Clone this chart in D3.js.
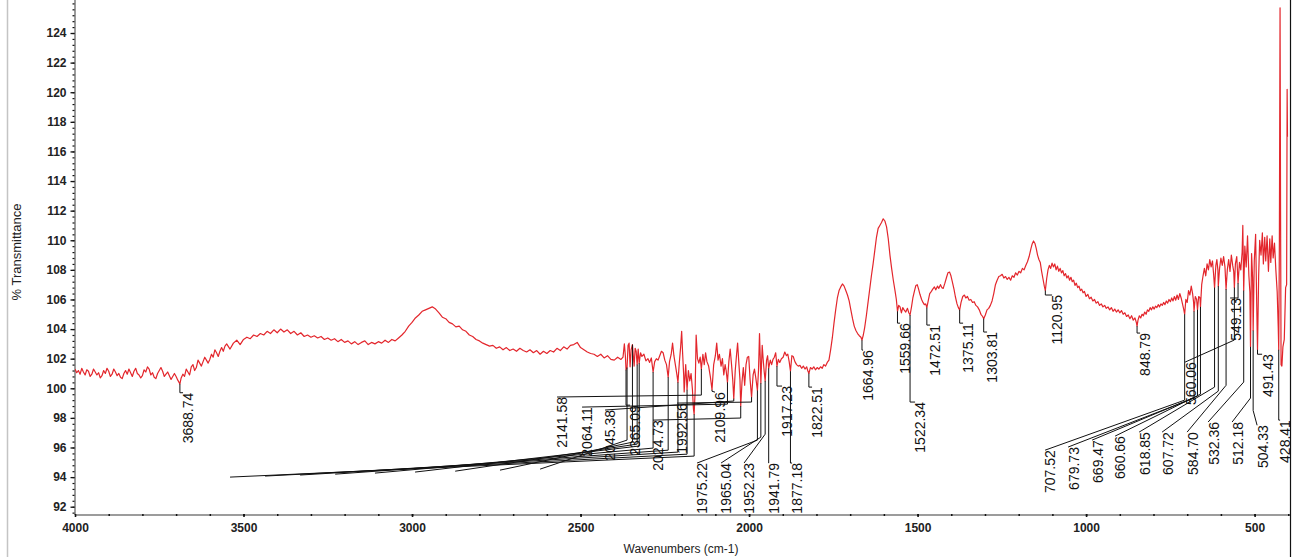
<!DOCTYPE html>
<html>
<head>
<meta charset="utf-8">
<script src="https://cdn.jsdelivr.net/npm/d3@7"></script>
<style>
  html, body { margin: 0; padding: 0; background: #fff; }
  svg { display: block; font-family: "Liberation Sans", Arial, sans-serif; }
</style>
</head>
<body>
<svg id="chart" width="1301" height="557"></svg>
<script>
// IR spectrum: [wavenumber (cm-1), % transmittance]
const spectrum = [
  [4000,101.3],[3995,101.05],[3990,101.2],[3985,100.95],[3980,101.35],[3975,101.1],[3970,100.9],[3965,101.25],
  [3960,101.15],[3955,100.8],[3950,100.95],[3945,101.3],[3940,101.1],[3935,100.9],[3930,101.05],[3925,100.7],
  [3920,100.85],[3915,101.2],[3910,101.0],[3905,101.35],[3900,101.15],[3895,100.8],[3890,100.95],[3885,101.3],
  [3880,101.1],[3875,100.85],[3870,101.0],[3865,100.75],[3860,100.65],[3855,101.0],[3850,101.2],[3845,100.95],
  [3840,101.3],[3835,101.05],[3830,100.8],[3825,101.15],[3820,101.35],[3815,101.0],[3810,100.9],[3805,100.7],
  [3800,100.85],[3795,101.25],[3790,101.1],[3785,101.45],[3780,101.3],[3775,100.9],[3770,101.05],[3765,100.75],
  [3760,100.65],[3755,101.0],[3750,101.2],[3745,101.4],[3740,101.15],[3735,100.8],[3730,100.95],[3725,101.1],
  [3720,100.85],[3715,100.6],[3710,100.8],[3705,101.0],[3700,100.8],[3695,100.55],[3688.74,100.3],[3685,100.7],
  [3680,100.95],[3675,100.8],[3670,101.3],[3665,101.1],[3660,100.9],[3655,101.45],[3650,101.6],[3645,101.2],
  [3640,101.4],[3635,101.9],[3630,101.7],[3625,101.5],[3620,101.8],[3615,102.1],[3610,101.9],[3605,101.7],
  [3600,101.95],[3595,102.3],[3590,102.1],[3585,102.6],[3580,102.4],[3575,102.15],[3570,102.5],[3565,102.75],
  [3560,102.5],[3555,102.85],[3550,103.0],[3540,102.65],[3530,103.05],
  [3520,103.25],[3510,102.95],[3500,103.3],[3490,103.45],[3480,103.35],[3470,103.6],[3460,103.5],[3450,103.7],
  [3440,103.6],[3430,103.85],[3420,103.7],[3410,103.95],[3400,103.75],[3390,104.0],[3380,103.8],[3370,103.95],
  [3360,103.7],[3350,103.85],[3340,103.6],[3330,103.75],[3320,103.5],[3310,103.6],[3300,103.45],[3290,103.55],
  [3280,103.4],[3270,103.5],[3260,103.3],[3250,103.4],[3240,103.25],[3230,103.35],[3220,103.15],[3210,103.3],
  [3200,103.1],[3190,103.2],[3180,103.0],[3170,103.15],[3160,102.95],[3150,103.1],[3140,103.2],[3130,102.95],
  [3120,103.1],[3110,103.0],[3100,103.15],[3090,103.05],[3080,103.25],[3070,103.1],[3060,103.3],[3050,103.2],
  [3040,103.4],[3030,103.6],[3020,103.85],[3010,104.2],[3000,104.45],[2990,104.75],[2980,104.95],[2970,105.2],
  [2960,105.3],[2950,105.4],[2940,105.5],[2930,105.35],[2920,105.1],[2910,104.8],[2900,104.7],[2890,104.45],
  [2880,104.35],[2870,104.15],[2860,104.2],[2850,103.95],[2840,103.85],[2830,103.6],[2820,103.5],[2810,103.3],
  [2800,103.2],[2790,103.05],[2780,102.95],[2770,102.85],[2760,102.9],[2750,102.7],[2740,102.8],[2730,102.6],
  [2720,102.75],[2710,102.55],[2700,102.65],[2690,102.5],[2680,102.7],[2670,102.55],[2660,102.45],[2650,102.6],
  [2640,102.4],[2630,102.55],[2620,102.3],[2610,102.5],[2600,102.35],[2590,102.55],[2580,102.45],[2570,102.7],
  [2560,102.55],[2550,102.8],[2540,102.65],[2530,102.9],[2520,102.95],[2510,103.1],[2500,102.75],[2490,102.6],
  [2480,102.45],[2470,102.35],[2460,102.3],[2450,102.15],[2440,102.3],[2430,102.05],[2420,102.2],[2410,101.95],
  [2400,101.9],[2390,102.1],[2380,101.95],
  [2374,102.1],[2370,103.0],[2367,102.2],[2365.09,101.25],[2362,101.4],[2359,102.9],[2356,103.05],[2353,101.45],
  [2350,102.6],[2346,102.95],[2341,101.5],[2338,102.7],[2335,102.5],[2332,101.6],[2329,102.65],[2326,101.7],
  [2322,102.4],[2318,102.15],[2312,102.3],[2306,101.85],[2300,102.0],[2295,101.75],[2290,102.05],[2284.73,101.1],
  [2280,101.8],[2275,102.0],[2270,101.9],[2265,102.2],[2260,102.5],[2255,102.4],[2250,101.9],[2245,101.6],
  [2240,100.75],[2236,101.8],[2231,102.3],[2227,103.05],[2223,102.2],[2218,101.5],[2214,100.9],[2211,100.4],
  [2207,101.7],[2203,102.8],[2200,103.85],[2197,102.3],[2194,100.9],[2192.56,99.75],[2188,101.6],[2184,99.9],
  [2180,101.2],[2176,100.5],[2172,101.0],[2168,99.9],[2165,98.6],[2163,98.25],[2160,99.8],[2157,103.6],
  [2153,102.0],[2149,101.7],[2145,102.1],[2141.58,101.3],[2137,102.3],[2133,101.6],[2129,102.4],[2125,101.8],
  [2120,101.5],[2115,100.8],[2109.96,99.9],[2105,101.6],[2100,102.2],[2096,103.05],[2092,101.9],[2088,102.3],
  [2083,101.5],[2079,102.0],[2075,100.9],[2071,101.6],[2068,101.2],[2064.11,100.4],[2060,101.8],[2056,102.65],
  [2052,101.6],[2048.5,100.6],[2045.38,99.3],[2041,101.2],[2037,102.3],[2034,103.05],[2030,101.6],[2027,100.6],
  [2024.73,98.8],[2021,100.4],[2017,101.4],[2013,100.2],[2009,101.6],[2005,102.1],[2001,102.15],[1997,100.6],
  [1992.56,99.4],[1988,100.9],[1984,101.3],[1980,100.7],[1975.22,99.85],[1972,101.2],[1969,103.7],[1967,102.2],
  [1965.04,100.35],[1961,102.9],[1958,101.9],[1955,101.1],[1952.23,100.5],[1948,101.9],[1945,102.2],[1941.79,101.35],
  [1937,101.9],[1933,101.6],[1929,101.95],[1925,102.1],[1921,102.4],[1917.23,101.5],[1913,101.95],[1909,101.75],
  [1904,102.0],[1899,102.1],[1894,102.45],[1889,102.2],[1885,102.3],[1881,101.8],[1877.18,101.15],[1873,102.2],
  [1869,102.15],[1864,101.8],[1859,101.6],[1854,101.5],[1849,101.55],[1844,101.35],[1839,101.5],[1834,101.3],
  [1829,101.45],[1826,101.2],[1822.51,101.0],[1818,101.4],[1813,101.3],[1808,101.45],[1803,101.25],[1798,101.4],
  [1793,101.3],[1788,101.45],[1783,101.35],[1778,101.6],[1773,101.5],[1768,101.75],
  [1763,101.9],[1758,102.6],[1753,103.4],[1748,104.4],[1743,105.3],[1738,106.1],[1733,106.6],[1728,106.85],
  [1723,107.05],[1718,106.9],[1713,106.6],[1708,106.3],[1703,105.9],[1698,105.3],[1693,104.7],[1688,104.2],
  [1683,103.9],[1678,103.7],[1673,103.55],[1668,103.45],[1664.96,103.25],[1661,103.6],[1657,104.1],[1652,104.9],
  [1647,105.8],[1642,106.7],[1637,107.6],[1632,108.4],[1627,109.3],[1622,110.2],[1617,110.8],[1612,111.0],
  [1607,111.2],[1602,111.45],[1597,111.3],[1592,110.9],[1587,110.1],[1582,109.0],[1577,108.1],[1572,107.3],
  [1567,106.6],[1563,106.0],[1559.66,105.2],[1556,105.6],[1552,105.5],[1548,105.1],[1544,105.45],[1540,105.3],
  [1535,105.15],[1530,105.4],[1526,105.1],[1522.34,104.95],[1518,105.5],[1514,106.1],[1509,106.6],[1505,106.95],
  [1501,107.0],[1497,106.7],[1493,106.35],[1488,106.0],[1484,105.8],[1480,105.65],[1476,105.7],[1472.51,105.45],
  [1468,105.95],[1464,106.4],[1459,106.55],[1455,106.7],[1450,106.85],[1446,106.65],[1441,106.9],[1437,106.75],
  [1432,107.0],[1428,106.8],[1424,106.75],[1419,107.1],[1414,107.5],[1410,107.8],[1405,107.85],[1401,107.6],
  [1397,107.2],[1392,106.7],[1388,106.2],[1383,105.7],[1379,105.45],[1375.11,105.3],[1371,105.8],[1366,106.2],
  [1361,106.3],[1357,106.1],[1352,106.2],[1347,105.95],[1342,106.0],[1337,105.8],[1332,105.85],[1327,105.6],
  [1322,105.5],[1317,105.3],[1312,105.0],[1307,104.85],[1303.81,104.7],[1299,104.95],[1294,105.3],[1289,105.4],
  [1284,105.6],[1279,105.9],[1274,106.4],[1269,107.0],[1264,107.3],[1259,107.55],[1254,107.6],[1249,107.7],
  [1244,107.45],[1239,107.55],[1234,107.35],[1229,107.5],[1224,107.3],[1219,107.6],[1214,107.5],[1209,107.8],
  [1204,107.65],[1199,107.9],[1194,107.8],[1189,108.1],[1184,108.0],[1179,108.3],[1174,108.55],[1169,108.9],
  [1164,109.4],[1160,109.75],[1156,109.95],[1152,109.8],[1148,109.45],[1144,109.0],[1140,108.7],[1136,108.5],
  [1132,107.9],[1128,107.4],[1124,106.9],[1120.95,106.6],[1117,107.4],[1113,108.0],[1109,108.3],[1105,108.1],
  [1101,108.45],[1097,108.2],[1093,108.4],[1089,108.0],[1085,108.25],[1081,107.9],[1077,108.1],[1073,107.8],
  [1069,107.95],[1065,107.6],[1061,107.75],[1057,107.45],[1053,107.6],[1049,107.3],[1045,107.5],[1041,107.2],
  [1037,107.3],[1033,106.95],[1029,107.1],[1025,106.8],[1021,106.9],[1017,106.6],[1013,106.7],[1009,106.45],
  [1005,106.55],[1000,106.2],[995,106.35],[990,106.05],[985,106.15],[980,105.9],[975,106.0],[970,105.75],
  [965,105.85],[960,105.6],[955,105.7],[950,105.5],[945,105.6],[940,105.4],[935,105.5],[930,105.3],
  [925,105.45],[920,105.2],[915,105.35],[910,105.15],[905,105.3],[900,105.1],[895,105.25],[890,105.0],
  [885,105.1],[880,104.85],[875,104.95],[870,104.7],[865,104.9],[860,104.6],[855,104.75],[851,104.45],
  [848.79,104.2],[846,104.6],[842,104.9],[838,104.75],[834,105.0],[830,104.9],[826,105.15],[822,105.0],
  [818,105.3],[814,105.2],[810,105.45],[806,105.3],[802,105.5],[798,105.35],[794,105.55],[790,105.45],
  [786,105.65],[782,105.5],[778,105.7],[774,105.6],[770,105.8],[766,105.65],[762,105.9],[758,105.75],
  [754,106.0],[750,105.85],[746,106.1],[742,105.9],[738,106.2],[734,105.95],[730,106.3],[726,106.0],
  [722,106.4],[718,106.1],[714,105.7],[710,105.3],[707.52,105.0],
  [704,106.0],[700,105.8],[696,106.6],[692,106.3],[688,106.9],[684,106.4],[681,105.8],[679.73,105.2],
  [676,106.2],[672,106.0],[669.47,105.3],[666,106.2],[662,106.1],[660.66,105.5],[657,107.0],[653,107.6],
  [649,108.1],[645,107.6],[641,108.4],[637,108.0],[633,108.7],[629,108.2],[625,108.6],[622,107.8],
  [618.85,106.8],[615,108.3],[612,108.7],[609,108.0],[607.72,106.9],[604,108.1],[600,108.8],[596,108.3],
  [592,108.9],[588,108.2],[584.70,106.7],[581,108.0],[577,108.7],[573,107.9],[569,109.0],[565,108.3],
  [562,107.9],[560.06,106.8],[557,108.4],[553,108.9],[549.13,107.1],[545,108.5],[541,108.0],[537,109.2],
  [535,111.0],[532.36,106.6],[529,109.6],[525,108.2],[521,110.3],[517,107.6],[514,106.5],[512.18,102.8],
  [509,109.1],[506,107.5],[504.33,103.9],[501,108.6],[497,110.4],[494,106.0],[491.43,102.6],[488,107.6],
  [485,110.0],[481,109.0],[477,110.5],[474,108.4],[470,110.2],[467,108.6],[463,110.3],[459,107.9],
  [455,110.1],[452,108.5],[448,110.3],[445,108.8],[441,109.8],[437,108.0],[433,106.5],[430,104.2],
  [428.41,102.6],[426.5,110.0],[424.5,125.7],[423,112.0],[421.5,101.6],[419,101.5],[416,102.8],[412,103.3],
  [408,106.8],[405,107.0],[403.5,120.2],[402.5,117.0]
];

// Axis ticks
const xTicks = [4000, 3500, 3000, 2500, 2000, 1500, 1000, 500];
const yTicks = [92, 94, 96, 98, 100, 102, 104, 106, 108, 110, 112, 114, 116, 118, 120, 122, 124];

// Peak picks: peak position, label anchor (top of rotated text), and leader elbow
const peakWn  = [3688.74, 2365.09, 2141.58, 2064.11, 2045.38, 2024.73, 1992.56, 2109.96, 1975.22, 1965.04,
                 1952.23, 1941.79, 1917.23, 1877.18, 1822.51, 1664.96, 1559.66, 1522.34, 1472.51, 1375.11,
                 1303.81, 1120.95, 848.79, 707.52, 679.73, 669.47, 660.66, 618.85, 607.72, 584.70,
                 560.06, 549.13, 532.36, 512.18, 504.33, 491.43, 428.41];
const labelWn = [3679.5, 2353.1, 2569.7, 2495.5, 2427.3, 2284.9, 2213.6, 2101.0, 2154.3, 2083.1,
                 2014.8, 1941.2, 1902.1, 1872.4, 1813.1, 1661.7, 1551.9, 1507.4, 1462.9, 1365.0,
                 1293.8, 1100.9, 839.8, 1121.7, 1053.4, 982.2, 914.0, 842.7, 774.5, 700.3,
                 706.2, 572.7, 638.0, 566.8, 492.6, 477.7, 424.4];
const labelT  = [99.7, 98.86, 99.41, 98.73, 98.53, 97.85, 99.0, 99.74, 94.95, 94.95,
                 94.95, 94.95, 100.15, 94.95, 100.08, 102.58, 104.4, 99.07, 104.27, 104.4,
                 103.8, 106.3, 103.73, 95.82, 96.03, 96.5, 96.77, 97.04, 97.04, 97.04,
                 101.77, 106.1, 97.72, 97.72, 97.5, 102.3, 97.85];
const jointT  = [99.7, 98.86, 99.54, 98.93, 99.14, 97.99, 99.07, 99.8, 96.5, 96.7,
                 96.9, 94.95, 100.15, 94.95, 100.08, 102.58, 104.4, 99.07, 104.27, 104.4,
                 103.8, 106.3, 103.73, 99.2, 99.34, 99.47, 99.6, 100.08, 99.81, 100.2,
                 103.26, 106.1, 100.42, 99.34, 98.5, 102.3, 97.85];

// Leaders of picks whose labels fall outside the drawing
const hiddenWn    = [2163, 2184, 2211, 2240, 2284.73, 2326, 2332, 2346, 2362];
const hiddenJoint = [95.42, 95.55, 95.69, 95.82, 95.96, 96.1, 96.23, 96.36, 96.5];
const hiddenEndWn = [3540, 3436, 3332, 3228, 3110, 2991, 2872, 2739, 2620];
const hiddenEndT  = [94.0, 94.07, 94.14, 94.2, 94.27, 94.34, 94.4, 94.47, 94.54];

const svg = d3.select("#chart");
const plot = { left: 75, right: 1290, top: 0, bottom: 515 };

const x = d3.scaleLinear().domain([4000, 395]).range([plot.left, plot.right]);
const y = d3.scaleLinear().domain([91.44, 126.23]).range([plot.bottom, plot.top]);

// frame edges
svg.append("line").attr("x1", 7.5).attr("x2", 7.5).attr("y1", 0).attr("y2", 557)
  .attr("stroke", "#c4c4c4").attr("stroke-width", 1.5);
svg.append("line").attr("x1", plot.right + 0.5).attr("x2", plot.right + 0.5).attr("y1", 0).attr("y2", 557)
  .attr("stroke", "#111").attr("stroke-width", 1.2);

svg.append("defs").append("clipPath").attr("id", "plotClip")
  .append("rect").attr("x", plot.left).attr("y", 0)
  .attr("width", plot.right - plot.left).attr("height", 557);

// axis lines
svg.append("line").attr("x1", plot.left).attr("x2", plot.left).attr("y1", 0).attr("y2", plot.bottom)
  .attr("stroke", "#9c9c9c").attr("stroke-width", 2);
svg.append("line").attr("x1", plot.left).attr("x2", plot.right).attr("y1", plot.bottom).attr("y2", plot.bottom)
  .attr("stroke", "#9c9c9c").attr("stroke-width", 2);

// y axis
const yMinor = d3.range(91.6, 126.2, 0.4);
const gyMinor = svg.append("g").attr("transform", `translate(${plot.left - 0.5},0)`)
  .call(d3.axisLeft(y).tickValues(yMinor).tickSize(2).tickFormat(""));
gyMinor.select(".domain").remove();
gyMinor.selectAll("line").attr("stroke", "#111").attr("stroke-width", 1.2);

const gy = svg.append("g").attr("transform", `translate(${plot.left - 0.5},0)`)
  .call(d3.axisLeft(y).tickValues(yTicks).tickSize(4).tickPadding(4).tickFormat(d3.format("d")));
gy.select(".domain").remove();
gy.selectAll("line").attr("stroke", "#111").attr("stroke-width", 1.3);
gy.selectAll("text").attr("fill", "#222").style("font-size", "12px").style("font-weight", "bold")
  .style("font-family", "'Liberation Sans', Arial, sans-serif");

// x axis
const xMinor = d3.range(3900, 399, -100);
const gxMinor = svg.append("g").attr("transform", `translate(0,${plot.bottom - 1})`)
  .call(d3.axisBottom(x).tickValues(xMinor).tickSize(2).tickFormat(""));
gxMinor.select(".domain").remove();
gxMinor.selectAll("line").attr("stroke", "#111").attr("stroke-width", 1.5);

const gx = svg.append("g").attr("transform", `translate(0,${plot.bottom - 1})`)
  .call(d3.axisBottom(x).tickValues(xTicks).tickSize(3).tickPadding(6).tickFormat(d3.format("d")));
gx.select(".domain").remove();
gx.selectAll("line").attr("stroke", "#111").attr("stroke-width", 1.6);
gx.selectAll("text").attr("fill", "#222").style("font-size", "12px").style("font-weight", "bold")
  .style("font-family", "'Liberation Sans', Arial, sans-serif");

// axis titles
svg.append("text").attr("transform", "translate(21,252) rotate(-90)")
  .attr("text-anchor", "middle").attr("fill", "#222").style("font-size", "13px")
  .text("% Transmittance");
svg.append("text").attr("x", 681).attr("y", 553)
  .attr("text-anchor", "middle").attr("fill", "#222").style("font-size", "12px")
  .text("Wavenumbers (cm-1)");

// spectrum trace
const line = d3.line().x(d => x(d[0])).y(d => y(d[1]));
svg.append("g").attr("clip-path", "url(#plotClip)")
  .append("path").datum(spectrum)
  .attr("d", line).attr("fill", "none")
  .attr("stroke", "#e3262c").attr("stroke-width", 1.2).attr("stroke-linejoin", "round");

// transmittance of the trace at a pick
const valueAt = w => d3.least(spectrum, d => Math.abs(d[0] - w))[1];

const ann = svg.append("g").attr("clip-path", "url(#plotClip)");

ann.selectAll("path.hidden").data(hiddenWn).join("path").attr("class", "hidden")
  .attr("d", (w, i) => `M${x(w)},${y(valueAt(w))}V${y(hiddenJoint[i])}L${x(hiddenEndWn[i])},${y(hiddenEndT[i])}`)
  .attr("fill", "none").attr("stroke", "#111").attr("stroke-width", 1);

ann.selectAll("path.leader").data(peakWn).join("path").attr("class", "leader")
  .attr("d", (w, i) => `M${x(w)},${y(valueAt(w))}V${y(jointT[i])}L${x(labelWn[i])},${y(labelT[i])}`)
  .attr("fill", "none").attr("stroke", "#111").attr("stroke-width", 1);

ann.selectAll("text.pick").data(peakWn).join("text").attr("class", "pick")
  .attr("transform", (w, i) => `translate(${x(labelWn[i])},${y(labelT[i])}) rotate(-90)`)
  .attr("text-anchor", "end").attr("dominant-baseline", "hanging")
  .attr("fill", "#111").style("font-size", "14px")
  .text(w => w.toFixed(2));
</script>
</body>
</html>
